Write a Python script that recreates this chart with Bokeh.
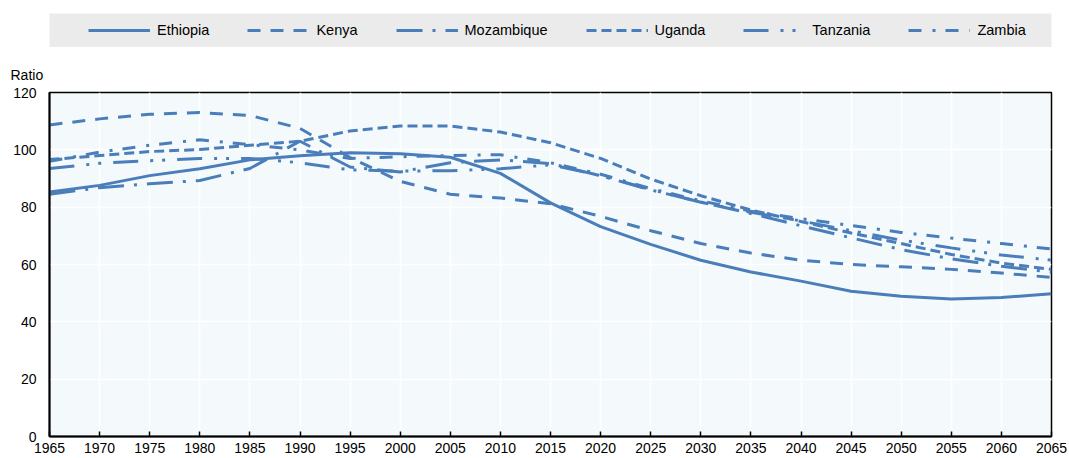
from bokeh.plotting import figure
from bokeh.layouts import column
from bokeh.models import Legend, LegendItem, FixedTicker, Range1d, Title
from bokeh.embed import file_html
from bokeh.resources import INLINE

years = [1965, 1970, 1975, 1980, 1985, 1990, 1995, 2000, 2005, 2010, 2015,
         2020, 2025, 2030, 2035, 2040, 2045, 2050, 2055, 2060, 2065]

ethiopia = [85.3, 87.6, 91.0, 93.4, 96.5, 97.9, 99.0, 98.6, 97.4, 91.8, 81.5,
            73.2, 67.0, 61.5, 57.4, 54.2, 50.7, 48.9, 48.0, 48.5, 49.8]
kenya = [108.7, 110.8, 112.4, 113.0, 112.0, 107.5, 97.3, 89.0, 84.5, 83.2, 81.2,
         76.8, 71.8, 67.3, 64.0, 61.5, 60.0, 59.2, 58.3, 57.0, 55.5]
mozambique = [84.5, 86.8, 88.2, 89.3, 93.5, 103.0, 94.0, 92.3, 95.5, 96.5, 95.2,
              91.0, 86.0, 81.8, 77.8, 73.5, 69.3, 65.2, 62.0, 59.4, 57.3]
uganda = [96.6, 98.0, 99.4, 100.1, 101.6, 103.0, 106.6, 108.3, 108.3, 106.2, 102.5,
          97.0, 89.8, 84.0, 79.0, 75.0, 71.0, 67.3, 63.5, 60.5, 58.3]
tanzania = [93.5, 95.3, 96.2, 97.0, 97.0, 95.5, 93.0, 92.6, 92.7, 93.4, 94.8,
            91.0, 86.2, 81.7, 78.2, 75.2, 71.8, 68.5, 65.8, 63.3, 61.5]
zambia = [96.0, 99.2, 101.6, 103.5, 101.8, 100.0, 97.0, 97.6, 98.0, 98.3, 95.5,
          91.5, 86.5, 82.2, 78.6, 76.0, 73.6, 71.2, 69.2, 67.3, 65.4]

y_ticks = [0, 20, 40, 60, 80, 100, 120]
country_names = ["Ethiopia", "Kenya", "Mozambique", "Uganda", "Tanzania", "Zambia"]
country_values = [ethiopia, kenya, mozambique, uganda, tanzania, zambia]
dashes = ["solid", "13 10", "26 10 3 10", "10 5", "25 12 3 9 3 12", "13 11 3 10"]

COLOR = "#4A7EBB"
FONT = "Liberation Sans"

# ---- legend strip (gray box) ----
leg = figure(width=1069, height=47, x_range=Range1d(0, 1), y_range=Range1d(0, 1),
             output_backend="svg", toolbar_location=None,
             min_border_left=49, min_border_right=17, min_border_top=13, min_border_bottom=0)
leg.axis.visible = False
leg.grid.visible = False
leg.outline_line_color = None
leg.background_fill_color = "#EBEBEB"
leg.border_fill_color = "white"

leg_items = []
for name, vals, dash in zip(country_names, country_values, dashes):
    # same series, outside this strip's ranges: only used as legend proxies
    r = leg.line(years, vals, line_color=COLOR, line_width=3, line_dash=dash)
    leg_items.append(LegendItem(label=name, renderers=[r]))

legend = Legend(items=leg_items, orientation="horizontal", location=(39, 7),
                glyph_width=62, glyph_height=20, label_height=20, label_standoff=7,
                spacing=38, padding=0, margin=0,
                background_fill_alpha=0, border_line_alpha=0,
                label_text_font=FONT, label_text_font_size="14.5px",
                label_text_color="black")
leg.add_layout(legend)

# ---- main chart ----
p = figure(width=1069, height=411, x_range=Range1d(1965, 2065), y_range=Range1d(0, 120),
           output_backend="svg", toolbar_location=None,
           min_border_left=47, min_border_right=18, min_border_top=45, min_border_bottom=22)
p.title = Title(text="Ratio", align="left", offset=-39, standoff=20,
                text_font=FONT, text_font_size="14px", text_font_style="normal",
                text_color="black")
p.background_fill_color = "#F4FAFC"
p.border_fill_color = "white"
p.outline_line_color = "black"
p.outline_line_width = 1.5

p.xaxis.ticker = FixedTicker(ticks=years)
p.yaxis.ticker = FixedTicker(ticks=y_ticks)
p.xgrid.ticker = FixedTicker(ticks=years)
p.ygrid.ticker = FixedTicker(ticks=y_ticks)
for g in (p.xgrid, p.ygrid):
    g.grid_line_color = "white"
    g.grid_line_width = 1.5

for ax in (p.xaxis, p.yaxis):
    ax.axis_line_color = "black"
    ax.axis_line_width = 2
    ax.minor_tick_line_color = None
    ax.major_label_text_font = FONT
    ax.major_label_text_font_size = "14px"
    ax.major_label_text_color = "black"
p.xaxis.major_tick_in = 5
p.xaxis.major_tick_out = 0
p.xaxis.major_tick_line_color = "black"
p.xaxis.major_tick_line_width = 1.5
p.xaxis.major_label_standoff = 6
p.yaxis.major_tick_line_color = None
p.yaxis.major_tick_in = 0
p.yaxis.major_tick_out = 0
p.yaxis.major_label_standoff = 13

for name, vals, dash in zip(country_names, country_values, dashes):
    p.line(years, vals, line_color=COLOR, line_width=3, line_dash=dash)

layout = column(leg, p, spacing=0)
open("out.html", "w").write(file_html(layout, INLINE))
